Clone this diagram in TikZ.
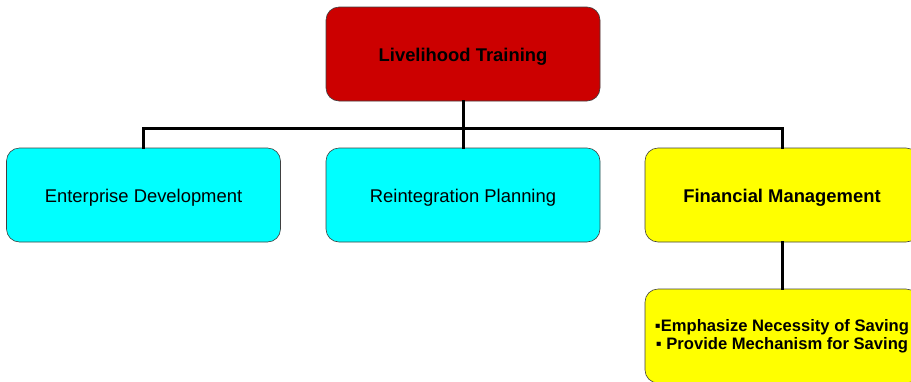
\documentclass[tikz,border=0pt]{standalone}
\usepackage{fontspec}
\setmainfont{Liberation Sans}
\usetikzlibrary{positioning}

\definecolor{topred}{HTML}{CC0000}
\definecolor{boxcyan}{HTML}{00FFFF}
\definecolor{boxyellow}{HTML}{FFFF00}

\begin{document}
\begin{tikzpicture}[%
        x = 1pt,
        y = -1pt,
        line cap = round,
        box/.style = {draw = black!75, line width = 0.6pt, rounded corners = 13pt,
            minimum width = 274pt, minimum height = 94pt, inner sep = 0pt,
            align = center, font = \fontsize{18.4}{20}\selectfont},
        onerow/.style = {box, text height = 19pt, text depth = 4pt},
        link/.style = {line width = 3pt, line cap = rect}
    ]

        % Page size.
        \useasboundingbox (0, 0) rectangle (911, 381);
        \clip (0, 0) rectangle (911, 381);

        % Boxes.
        \node[onerow, fill = topred, font = \fontsize{18.4}{20}\selectfont\bfseries] (train) at (463, 54) {Livelihood Training};
        \node[onerow, fill = boxcyan] (enter) at (143.5, 195) {Enterprise Development};
        \node[onerow, fill = boxcyan] (reint) at (463, 195) {Reintegration Planning};
        \node[onerow, fill = boxyellow, font = \fontsize{18.4}{20}\selectfont\bfseries] (finan) at (782, 195) {Financial Management};
        \node[box, fill = boxyellow, font = \fontsize{16.6}{18}\selectfont\bfseries] (save) at (782, 336)
            {▪Emphasize Necessity of Saving\\ ▪ Provide Mechanism for Saving};

        % Connectors.
        \begin{scope}[link]
            \draw (train.south) to (reint.north);
            \draw (enter.north) to ++(0, -19) -| (finan.north);
            \draw (finan.south) to (save.north);
        \end{scope}
    \end{tikzpicture}
\end{document}
